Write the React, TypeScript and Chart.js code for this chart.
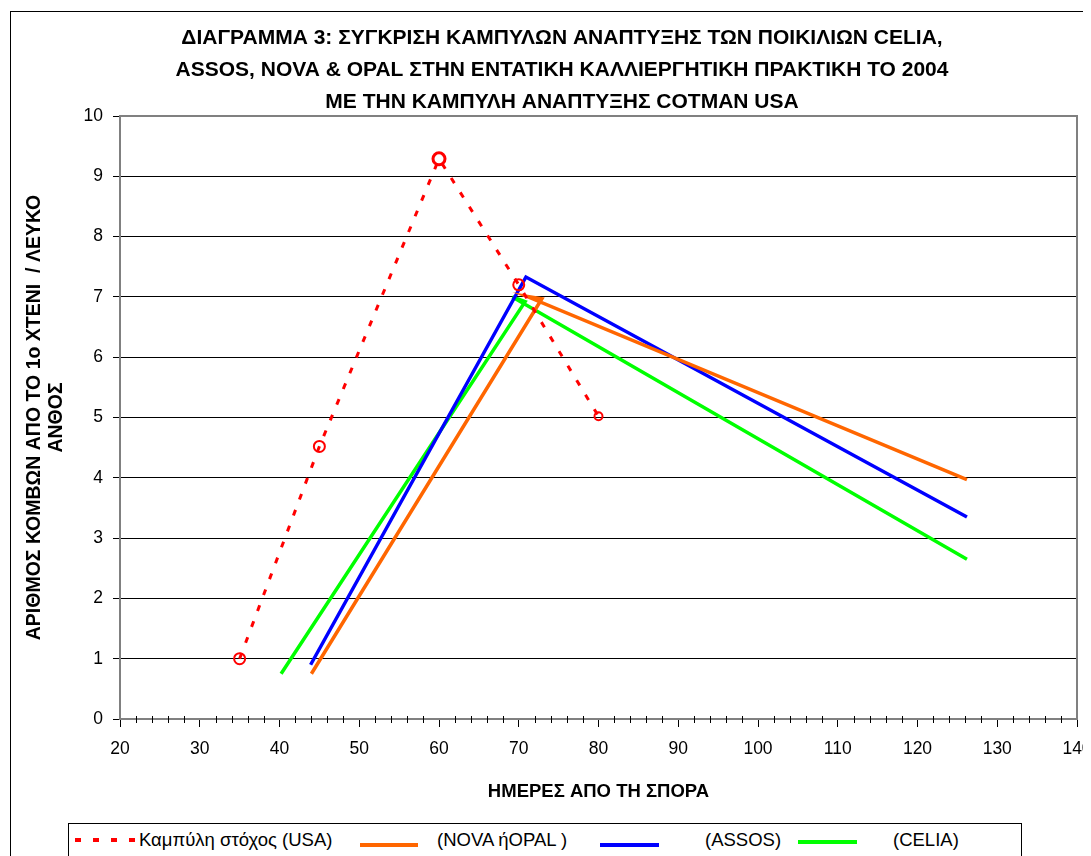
import React, { useEffect, useRef } from 'react';
import { Chart, registerables } from 'chart.js';

Chart.register(...registerables);

// ---------- data ----------
const titleLines = [
  'ΔΙΑΓΡΑΜΜΑ 3: ΣΥΓΚΡΙΣΗ ΚΑΜΠΥΛΩΝ ΑΝΑΠΤΥΞΗΣ ΤΩΝ ΠΟΙΚΙΛΙΩΝ CELIA,',
  'ASSOS, NOVA & OPAL ΣΤΗΝ ΕΝΤΑΤΙΚΗ ΚΑΛΛΙΕΡΓΗΤΙΚΗ ΠΡΑΚΤΙΚΗ ΤΟ 2004',
  'ΜΕ ΤΗΝ ΚΑΜΠΥΛΗ ΑΝΑΠΤΥΞΗΣ COTMAN USA',
];
const xAxisTitle = 'ΗΜΕΡΕΣ ΑΠΟ ΤΗ ΣΠΟΡΑ';
const yAxisTitle = ['ΑΡΙΘΜΟΣ ΚΟΜΒΩΝ ΑΠΟ ΤΟ 1ο ΧΤΕΝΙ  / ΛΕΥΚΟ', 'ΑΝΘΟΣ'];
const seriesLabels = ['Καμπύλη στόχος (USA)', '(NOVA ήOPAL )', '(ASSOS)', '(CELIA)'];

const usaDays = [35, 45, 60, 70, 80];
const usaNodes = [1.0, 4.52, 9.29, 7.2, 5.02];
const novaDays = [44, 72.9, 71, 126.2];
const novaNodes = [0.75, 6.97, 7.01, 3.97];
const assosDays = [43.9, 70.9, 126.2];
const assosNodes = [0.9, 7.33, 3.35];
const celiaDays = [40.2, 70.8, 69.2, 126.2];
const celiaNodes = [0.75, 6.92, 7.0, 2.65];

const xMin = 20;
const xMax = 140;
const xStep = 10;
const xMinorStep = 2;
const yMin = 0;
const yMax = 10;
const yStep = 1;

// ---------- styles ----------
const FONT = '"Liberation Sans", Arial, Helvetica, sans-serif';
const seriesColors = ['#FF0000', '#FF6600', '#0000FF', '#00FF00'];

const legendItemStyles = [
  { sampleLeft: 67, sampleWidth: 60, sampleTop: 830, textLeft: 131, dashed: true },
  { sampleLeft: 352, sampleWidth: 58, sampleTop: 835, textLeft: 429, dashed: false },
  { sampleLeft: 592, sampleWidth: 59, sampleTop: 835, textLeft: 697, dashed: false },
  { sampleLeft: 790, sampleWidth: 59, sampleTop: 832, textLeft: 885, dashed: false },
];

const pts = (xs: number[], ys: number[]) => xs.map((x, i) => ({ x, y: ys[i] }));

const plotFrame = {
  id: 'plotFrame',
  beforeDatasetsDraw(chart: any) {
    const { ctx, chartArea: a, scales } = chart;
    const x = scales.x;
    ctx.save();
    ctx.strokeStyle = '#808080';
    ctx.lineWidth = 2;
    ctx.strokeRect(a.left, a.top, a.right - a.left, a.bottom - a.top);
    ctx.strokeStyle = '#000000';
    ctx.lineWidth = 1;
    ctx.beginPath();
    for (let v = xMin; v <= xMax; v += xMinorStep) {
      if (v % xStep === 0) continue;
      const px = Math.round(x.getPixelForValue(v)) + 0.5;
      ctx.moveTo(px, a.bottom - 3);
      ctx.lineTo(px, a.bottom + 4);
    }
    ctx.stroke();
    ctx.restore();
  },
};

export default function App() {
  const canvasRef = useRef<HTMLCanvasElement | null>(null);

  useEffect(() => {
    document.body.style.overflow = 'hidden';
    document.documentElement.style.overflow = 'hidden';
    const canvas = canvasRef.current;
    if (!canvas) return;
    const chart = new Chart(canvas, {
      type: 'scatter',
      data: {
        datasets: [
          {
            label: seriesLabels[0],
            data: pts(usaDays, usaNodes),
            showLine: true,
            borderColor: seriesColors[0],
            borderWidth: 3,
            borderDash: [6, 11],
            pointStyle: 'circle',
            pointRadius: [5.5, 5.5, 6, 5.5, 4],
            pointBorderWidth: [2, 2, 3, 2, 2],
            pointBorderColor: seriesColors[0],
            pointBackgroundColor: 'rgba(0,0,0,0)',
            tension: 0,
          },
          {
            label: seriesLabels[1],
            data: pts(novaDays, novaNodes),
            showLine: true,
            borderColor: seriesColors[1],
            borderWidth: 3.5,
            pointRadius: 0,
            tension: 0,
          },
          {
            label: seriesLabels[2],
            data: pts(assosDays, assosNodes),
            showLine: true,
            borderColor: seriesColors[2],
            borderWidth: 3.5,
            pointRadius: 0,
            tension: 0,
          },
          {
            label: seriesLabels[3],
            data: pts(celiaDays, celiaNodes),
            showLine: true,
            borderColor: seriesColors[3],
            borderWidth: 3.5,
            pointRadius: 0,
            tension: 0,
          },
        ],
      },
      options: {
        animation: false,
        responsive: true,
        maintainAspectRatio: false,
        layout: { padding: { left: 0, right: 0, top: 0, bottom: 0 } },
        plugins: {
          legend: { display: false },
          tooltip: { enabled: false },
          title: {
            display: true,
            text: titleLines,
            color: '#000000',
            font: { family: FONT, size: 21, weight: 'bold', lineHeight: '32px' },
            padding: { top: 14, bottom: -2 },
          },
        },
        scales: {
          x: {
            type: 'linear',
            min: xMin,
            max: xMax,
            afterFit: (s: any) => {
              s.height = 100;
            },
            ticks: {
              stepSize: xStep,
              color: '#000000',
              padding: 12,
              maxRotation: 0,
              font: { family: FONT, size: 17.5 },
            },
            grid: {
              display: true,
              drawOnChartArea: false,
              drawTicks: true,
              tickLength: 8,
              tickColor: '#000000',
            },
            border: { display: true, color: '#808080', width: 2 },
            title: {
              display: true,
              text: xAxisTitle,
              color: '#000000',
              font: { family: FONT, size: 18.5, weight: 'bold', lineHeight: '22px' },
              padding: { top: 0, bottom: 16 },
            },
          },
          y: {
            type: 'linear',
            min: yMin,
            max: yMax,
            afterFit: (s: any) => {
              s.width = 112;
            },
            ticks: {
              stepSize: yStep,
              color: '#000000',
              padding: 10,
              font: { family: FONT, size: 17.5 },
            },
            grid: {
              color: '#000000',
              lineWidth: 1,
              tickColor: '#000000',
              tickLength: 7,
              drawTicks: true,
            },
            border: { display: true, color: '#808080', width: 2 },
            title: {
              display: true,
              text: yAxisTitle,
              color: '#000000',
              font: { family: FONT, size: 19.5, weight: 'bold', lineHeight: '22px' },
              padding: { top: 16, bottom: 0 },
            },
          },
          yRightSpace: {
            type: 'linear',
            position: 'right',
            display: true,
            min: yMin,
            max: yMax,
            afterFit: (s: any) => {
              s.width = 39;
            },
            ticks: { display: false },
            grid: { display: false, drawOnChartArea: false, drawTicks: false },
            border: { display: false },
            title: { display: false },
          },
        },
      },
      plugins: [plotFrame],
    });
    return () => chart.destroy();
  }, []);

  return (
    <div
      style={{
        position: 'relative',
        width: 1083,
        height: 848,
        overflow: 'hidden',
        background: '#ffffff',
        fontFamily: FONT,
      }}
    >
      <div
        style={{
          position: 'absolute',
          left: 2,
          top: 3,
          width: 1200,
          height: 1000,
          border: '1px solid #000000',
          boxSizing: 'border-box',
        }}
      />
      <div style={{ position: 'absolute', left: 0, top: 0, width: 1108, height: 811 }}>
        <canvas ref={canvasRef} />
      </div>
      <div
        style={{
          position: 'absolute',
          left: 60,
          top: 815,
          width: 954,
          height: 60,
          border: '1px solid #000000',
          boxSizing: 'border-box',
          background: '#ffffff',
        }}
      />
      {seriesLabels.map((label, i) => {
        const st = legendItemStyles[i];
        return (
          <React.Fragment key={label}>
            <div
              style={{
                position: 'absolute',
                left: st.sampleLeft,
                top: st.sampleTop,
                width: st.sampleWidth,
                height: 4,
                background: st.dashed
                  ? `repeating-linear-gradient(to right, ${seriesColors[i]} 0 6px, transparent 6px 18px)`
                  : seriesColors[i],
              }}
            />
            <div
              style={{
                position: 'absolute',
                left: st.textLeft,
                top: 821,
                fontSize: 18.5,
                lineHeight: '22px',
                color: '#000000',
                whiteSpace: 'pre',
              }}
            >
              {label}
            </div>
          </React.Fragment>
        );
      })}
    </div>
  );
}
